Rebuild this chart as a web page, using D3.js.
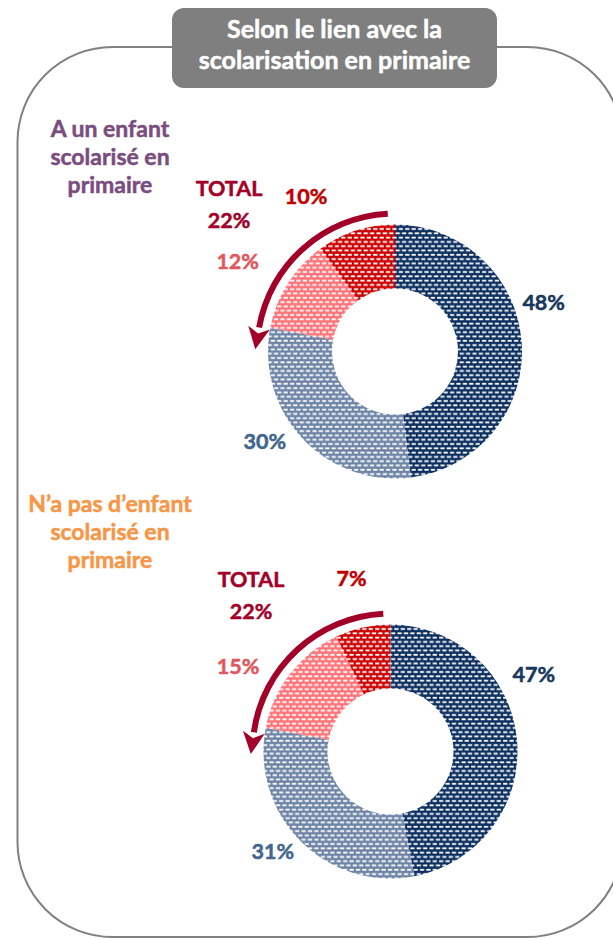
<!DOCTYPE html>
<html>
<head>
<meta charset="utf-8">
<script src="https://cdn.jsdelivr.net/npm/d3@7"></script>
<style>
  body { margin: 0; background: #fff; }
  svg text { font-family: Lato, "Open Sans", sans-serif; font-weight: 700;
             stroke-width: 0.5px; }
</style>
</head>
<body>
<div id="chart"></div>
<script>

// data
var title_lines     = ["Selon le lien avec la", "scolarisation en primaire"];
var group_labels    = [
    ["A un enfant", "scolarisé en", "primaire"],
    ["N\u2019a pas d\u2019enfant", "scolarisé en", "primaire"]
];
var slice_names     = ["slice1", "slice2", "slice3", "slice4"];
var values_with     = [48, 30, 12, 10];   // a un enfant scolarisé en primaire
var values_without  = [47, 31, 15, 7];    // n'a pas d'enfant scolarisé en primaire
var totals          = [22, 22];

// --------------------------------------------------------

var chart_width     =   613;
var chart_height    =   939;
var inner_r         =   63;
var outer_r         =   127;
var arrow_r         =   138;

var fills           = ["#0b2f5f", "#6e84a6", "#ff7378", "#cc0000"];
var label_colors    = ["#17375e", "#41668f", "#e0575d", "#c00000"];
var group_colors    = ["#7a4d7e", "#f79646"];
var total_color     = "#a20028";

// layout of the two donuts (centre, label nudges, TOTAL position)
var charts = [
    { values: values_with, cx: 395, cy: 351.5,
      nudge: [[-16, -39], [-10, -23], [-18, -2], [-38, 2]],
      total_xy: [229, 196], group_y: 137, arrow_end: -80 },
    { values: values_without, cx: 390.5, cy: 751.5,
      nudge: [[-21, -62], [-1, -17], [-22, 16], [-3, -12]],
      total_xy: [251, 587], group_y: 512, arrow_end: -82 }
];

// --------------------------------------------------------

var svg = d3.select("#chart")
    .append("svg")
    .attr("width", chart_width)
    .attr("height", chart_height);

// dashed (brick) patterns, one per colour
var defs = svg.append("defs");
fills.forEach((c, i) => {
    var p = defs.append("pattern")
        .attr("id", "pat" + i)
        .attr("patternUnits", "userSpaceOnUse")
        .attr("width", 6.4)
        .attr("height", 8.6);
    p.append("rect").attr("width", 6.4).attr("height", 8.6).attr("fill", c);
    [[0.6, 1.3], [3.8, 5.6], [-2.6, 5.6]].forEach((d) => {
        p.append("rect")
            .attr("x", d[0]).attr("y", d[1])
            .attr("width", 4.2).attr("height", 1.8)
            .attr("fill", "#fff");
    });
});

// outer frame
svg.append("rect")
    .attr("x", 17.5)
    .attr("y", 47)
    .attr("width", 605)
    .attr("height", 890)
    .attr("rx", 95)
    .attr("fill", "none")
    .attr("stroke", "#808080")
    .attr("stroke-width", 2);

// title box
svg.append("rect")
    .attr("x", 172)
    .attr("y", 8)
    .attr("width", 325)
    .attr("height", 80)
    .attr("rx", 12)
    .attr("fill", "#7f7f7f");

svg.append("g")
    .selectAll("text")
    .data(title_lines)
    .enter()
    .append("text")
    .attr("x", 334.5)
    .attr("y", (d, i) => 38 + i * 31)
    .attr("text-anchor", "middle")
    .attr("fill", "#fff")
    .attr("stroke", "#fff")
    .attr("font-size", 25)
    .text((d) => d);

// --------------------------------------------------------

var pie = d3.pie().sort(null).value((d) => d);
var arc = d3.arc().innerRadius(inner_r).outerRadius(outer_r);
var label_arc = d3.arc().innerRadius(165).outerRadius(165);
var rad = Math.PI / 180;

charts.forEach((c, ci) => {

    // group label on the left
    svg.append("g")
        .selectAll("text")
        .data(group_labels[ci])
        .enter()
        .append("text")
        .attr("x", 110)
        .attr("y", (d, i) => c.group_y + i * 28)
        .attr("text-anchor", "middle")
        .attr("fill", group_colors[ci])
        .attr("stroke", group_colors[ci])
        .attr("font-size", 23)
        .text((d) => d);

    var g = svg.append("g")
        .attr("transform", "translate(" + c.cx + "," + c.cy + ")");

    var slices = pie(c.values);

    g.selectAll("path.slice")
        .data(slices)
        .enter()
        .append("path")
        .attr("class", "slice")
        .attr("d", arc)
        .attr("fill", (d, i) => "url(#pat" + i + ")");

    g.selectAll("text.pct")
        .data(slices)
        .enter()
        .append("text")
        .attr("class", "pct")
        .attr("transform", (d, i) => {
            var p = label_arc.centroid(d);
            return "translate(" + (p[0] + c.nudge[i][0]) + "," + (p[1] + c.nudge[i][1]) + ")";
        })
        .attr("dy", "0.35em")
        .attr("text-anchor", "middle")
        .attr("fill", (d, i) => label_colors[i])
        .attr("stroke", (d, i) => label_colors[i])
        .attr("font-size", 21.5)
        .text((d) => d.data + "%");

    // curved arrow round the two red slices
    var a0 = -3 * rad, a1 = c.arrow_end * rad;
    g.append("path")
        .attr("d", d3.arc()({ innerRadius: arrow_r - 3, outerRadius: arrow_r + 3,
                              startAngle: a1, endAngle: a0 }))
        .attr("fill", total_color);

    var bx = arrow_r * Math.sin(a1), by = -arrow_r * Math.cos(a1);
    var tx = -Math.cos(a1), ty = -Math.sin(a1);     // tangent, anticlockwise
    var nx = Math.sin(a1), ny = -Math.cos(a1);      // radial
    var head = [
        [bx + nx * 11, by + ny * 11],
        [bx + tx * 22, by + ty * 22],
        [bx - nx * 11, by - ny * 11],
        [bx + tx * 6, by + ty * 6]
    ];
    g.append("path")
        .attr("d", d3.line()(head) + "Z")
        .attr("fill", total_color);

    // TOTAL label
    var t = svg.append("text")
        .attr("x", c.total_xy[0])
        .attr("y", c.total_xy[1])
        .attr("text-anchor", "middle")
        .attr("fill", total_color)
        .attr("stroke", total_color)
        .attr("font-size", 21.5);
    t.append("tspan").text("TOTAL");
    t.append("tspan")
        .attr("x", c.total_xy[0])
        .attr("dy", 32)
        .text(totals[ci] + "%");
});

</script>
</body>
</html>
